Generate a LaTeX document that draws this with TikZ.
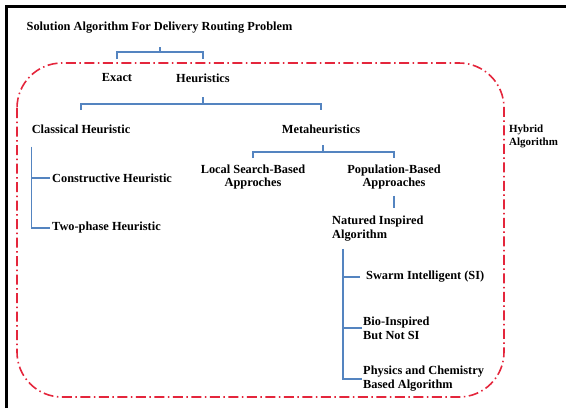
\documentclass[tikz,border=0pt]{standalone}
\usepackage{fontspec}
\setmainfont{Liberation Serif}
\usetikzlibrary{calc}
\definecolor{lineblue}{RGB}{84,132,192}
\definecolor{hybridred}{RGB}{228,38,60}
\begin{document}
\begin{tikzpicture}[x=1bp,y=-1bp,
  txt/.style={font=\bfseries\fontsize{12.4}{14}\selectfont, inner sep=0pt, text=black},
  conn/.style={draw=lineblue, line width=1.4bp},
  hyb/.style={draw=hybridred, line width=1.6bp, dash pattern=on 10bp off 3.5bp on 1.5bp off 3.5bp}]
\useasboundingbox (0,0) rectangle (566,408);
% frame
\draw[line width=3bp] (6.5,408) -- (6.5,6.5) -- (566,6.5);
% hybrid region
\draw[hyb, rounded corners=45bp] (17,63) rectangle (504,397);
% nodes
\node[txt] (title) at (159.5,28) {Solution Algorithm For Delivery Routing Problem};
\node[txt] (exact) at (117,78) {Exact};
\node[txt] (heur) at (203,78) {Heuristics};
\node[txt] (classical) at (81,129) {Classical Heuristic};
\node[txt] (meta) at (321,129) {Metaheuristics};
\node[txt, anchor=west] (cons) at (52,178) {Constructive Heuristic};
\node[txt, anchor=west] (two) at (52,228) {Two-phase Heuristic};
\node[txt, align=center] (local) at (253,177) {Local Search-Based\\Approches};
\node[txt, align=center] (pop) at (394,177) {Population-Based\\Approaches};
\node[txt, align=left, anchor=west] (nat) at (332,229) {Natured Inspired\\Algorithm};
\node[txt, anchor=west] (swarm) at (366,277) {Swarm Intelligent (SI)};
\node[txt, align=left, anchor=west] (bio) at (363,328) {Bio-Inspired\\But Not SI};
\node[txt, align=left, anchor=west] (phys) at (363,379) {Physics and Chemistry\\Based Algorithm};
\node[txt, align=left, anchor=west, font=\bfseries\fontsize{11}{13}\selectfont] (hybrid) at (509,136) {Hybrid\\Algorithm};
% bracket 1
\coordinate (j1) at (160,52);
\draw[conn] (j1) -- ++(0,-5);
\draw[conn] ($(exact.north |- j1)+(0,7)$) -- (exact.north |- j1) -- (heur.north |- j1) -- ++(0,7);
% bracket 2
\coordinate (j2) at (203,104);
\draw[conn] (j2) -- ++(0,-7);
\draw[conn] ($(classical.north |- j2)+(0,6)$) -- (classical.north |- j2) -- (meta.north |- j2) -- ++(0,6);
% bracket 3
\coordinate (j3) at (323,152);
\draw[conn] (j3) -- ++(0,-7);
\draw[conn] ($(local.north |- j3)+(0,6)$) -- (local.north |- j3) -- (pop.north |- j3) -- ++(0,6);
% population to natured
\draw[conn] ($(pop.south)+(0,6)$) -- ($(pop.south)+(0,18)$);
% classical tree
\coordinate (s1) at ($(classical.south west)+(0,13)$);
\draw[conn] (s1) |- ($(two.west)+(-2,0)$);
\draw[conn] ($(cons.west)+(-2,0)$) -- (cons.west -| s1);
% natured tree
\coordinate (s2) at ($(nat.south west)+(11,7)$);
\draw[conn] (s2) |- ($(phys.west)+(-1,0)$);
\draw[conn] ($(swarm.west)+(-6,0)$) -- (swarm.west -| s2);
\draw[conn] ($(bio.west)+(-1,0)$) -- (bio.west -| s2);
\end{tikzpicture}
\end{document}
